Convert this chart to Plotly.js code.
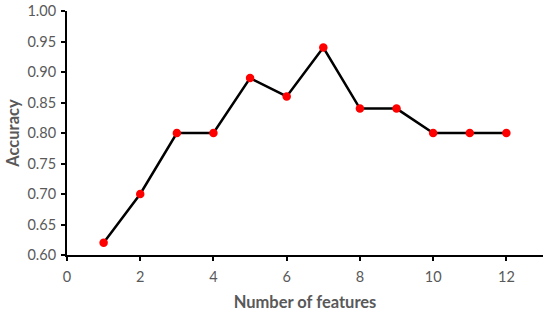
<!DOCTYPE html>
<html>
<head>
<meta charset="utf-8">
<script src="https://cdn.plot.ly/plotly-3.0.1.min.js"></script>
<style>html,body{margin:0;padding:0;background:#fff;}#chart{width:550px;height:313px;}</style>
</head>
<body>
<div id="chart"></div>
<script>
var features = [1, 2, 3, 4, 5, 6, 7, 8, 9, 10, 11, 12];
var accuracy = [0.62, 0.70, 0.80, 0.80, 0.89, 0.86, 0.94, 0.84, 0.84, 0.80, 0.80, 0.80];
var xTicks = [0, 2, 4, 6, 8, 10, 12];
var yTicks = [0.60, 0.65, 0.70, 0.75, 0.80, 0.85, 0.90, 0.95, 1.00];
var yTickLabels = yTicks.map(function(v){return v.toFixed(2);});

var trace = {
  x: features, y: accuracy, type: 'scatter', mode: 'lines+markers',
  line: {color: '#000000', width: 2.5},
  marker: {color: '#ff0000', size: 8.5},
  cliponaxis: false
};
var font = {family: 'Lato, "Open Sans", sans-serif', size: 14, color: '#595959'};
var layout = {
  width: 550, height: 313,
  margin: {l: 67, r: 7, t: 11, b: 58},
  paper_bgcolor: '#ffffff', plot_bgcolor: '#ffffff',
  showlegend: false,
  font: font,
  xaxis: {
    range: [0, 13], tickvals: xTicks, ticktext: xTicks.map(String),
    showgrid: false, zeroline: false, showline: true, linecolor: '#000', linewidth: 2,
    ticks: 'outside', ticklen: 4, tickwidth: 2, tickcolor: '#000', ticklabelstandoff: 4,
    tickfont: {family: font.family, size: 14.5, color: '#595959'},
    title: {text: '<b>Number of features</b>', font: {family: font.family, size: 16.5, color: '#595959'}, standoff: 12}
  },
  yaxis: {
    range: [0.60, 1.00], tickvals: yTicks, ticktext: yTickLabels,
    showgrid: false, zeroline: false, showline: true, linecolor: '#000', linewidth: 2,
    ticks: 'outside', ticklen: 4, tickwidth: 2, tickcolor: '#000', ticklabelstandoff: 2,
    tickfont: {family: font.family, size: 14.5, color: '#595959'},
    title: {text: '<b>Accuracy</b>', font: {family: font.family, size: 16.5, color: '#595959'}, standoff: 4}
  }
};
Plotly.newPlot('chart', [trace], layout, {displayModeBar: false, staticPlot: true});
</script>
</body>
</html>
